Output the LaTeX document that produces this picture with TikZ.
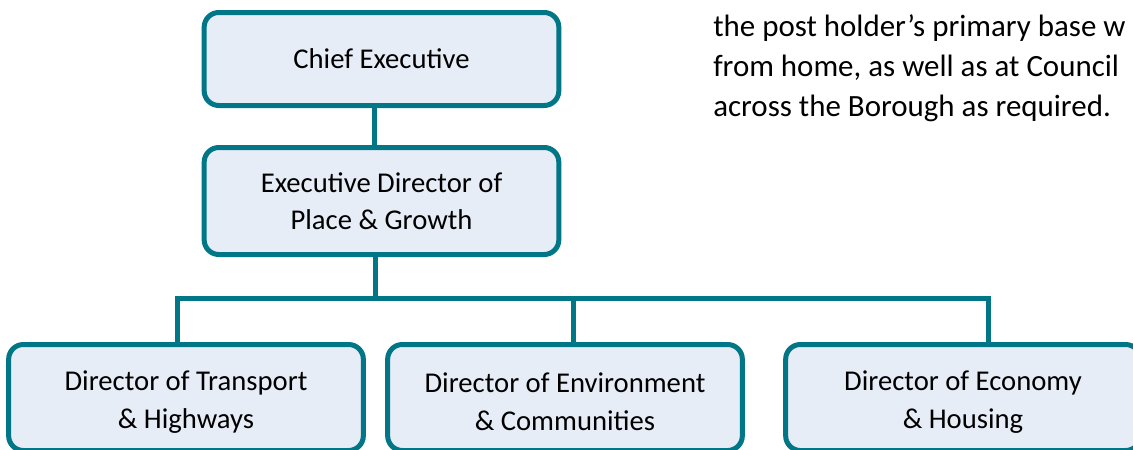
\documentclass[tikz,border=0pt]{standalone}
\usepackage{fontspec}
\setmainfont{Carlito}
\definecolor{teal}{RGB}{0,118,135}
\definecolor{boxfill}{RGB}{231,237,247}
\begin{document}
\begin{tikzpicture}[x=0.75pt,y=-0.75pt,
    post/.style={draw=teal,fill=boxfill,line width=3.75pt,rounded corners=11pt,
      minimum width=266pt,align=center,text=black,font=\fontsize{21.5}{27.75}\selectfont},
    lower/.style={post,minimum height=79.5pt,font=\fontsize{21.5}{28.5}\selectfont,text height=50pt},
    link/.style={draw=teal,line width=3.75pt},
    prose/.style={anchor=base west,inner sep=0pt,font=\fontsize{23.2}{30}\selectfont}]
  \useasboundingbox (0,0) rectangle (1133,450);
  \clip (0,0) rectangle (1133,450);
  % boxes
  \node[post,minimum height=69.75pt] (chief) at (381.5,59) {Chief Executive};
  \node[post,minimum height=80.25pt] (exec) at (381.5,201) {Executive Director of\\Place \& Growth};
  \node[lower] (trans) at (186,397.5) {Director of Transport\\\& Highways};
  \node[lower] (env) at (565,397.5) {Director of Environment\\\& Communities};
  \node[lower] (econ) at (963,397.5) {Director of Economy\\\& Housing};
  % connectors
  \coordinate (fork) at (375.7,298.5);
  \coordinate (dropT) at (177,298.5);
  \coordinate (dropE) at (573.3,298.5);
  \coordinate (dropC) at (988,298.5);
  \draw[link] ([xshift=-5.6pt]chief.south) -- ([xshift=-5.6pt]exec.north);
  \draw[link] (fork |- exec.south) -- (fork);
  \draw[link] (dropT |- trans.north) -- (dropT) -- (dropC) -- (dropC |- econ.north);
  \draw[link] (dropE) -- (dropE |- env.north);
  % text on the right
  \node[prose] (lineA) at (713,36) {the post holder’s primary base w};
  \node[prose] (lineB) at (713,76) {from home, as well as at Council};
  \node[prose] (lineC) at (713,116) {across the Borough as required.};
\end{tikzpicture}
\end{document}
